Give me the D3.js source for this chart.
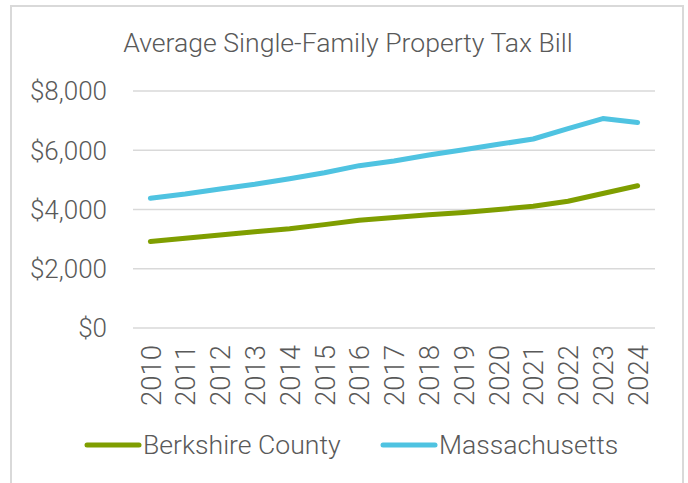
<!DOCTYPE html>
<html>
<head>
<meta charset="utf-8">
<script src="https://cdn.jsdelivr.net/npm/d3@7"></script>
<style>
  html, body { margin: 0; padding: 0; background: #fff; }
  svg { display: block; }
  text { font-family: Roboto, "Noto Sans", sans-serif; font-weight: 300; fill: #595959; }
</style>
</head>
<body>
<script>
const years = ["2010","2011","2012","2013","2014","2015","2016","2017","2018","2019","2020","2021","2022","2023","2024"];
const berkshire = [2920, 3030, 3140, 3250, 3350, 3490, 3640, 3730, 3820, 3900, 4000, 4110, 4280, 4540, 4800];
const massachusetts = [4380, 4520, 4690, 4850, 5040, 5240, 5480, 5640, 5840, 6020, 6200, 6380, 6730, 7070, 6940];
const yTicks = [0, 2000, 4000, 6000, 8000];
const seriesNames = ["Berkshire County", "Massachusetts"];
const seriesColors = ["#7f9e00", "#4fc3e1"];
const title = "Average Single-Family Property Tax Bill";

const W = 688, H = 483;
const svg = d3.select("body").append("svg").attr("width", W).attr("height", H);

// outer border
svg.append("rect").attr("x", 11).attr("y", 6).attr("width", 672).attr("height", 490)
  .attr("fill", "none").attr("stroke", "#d9d9d9").attr("stroke-width", 2);

const x = d3.scalePoint().domain(years).range([133, 655]).padding(0.5);
const y = d3.scaleLinear().domain([0, 8000]).range([328, 91]);

// title
svg.append("text").attr("x", 348).attr("y", 52).attr("text-anchor", "middle")
  .style("font-size", "26.6px").text(title);

// gridlines
svg.append("g").selectAll("line").data(yTicks).join("line")
  .attr("x1", 133).attr("x2", 655)
  .attr("y1", d => y(d)).attr("y2", d => y(d))
  .attr("stroke", "#d9d9d9").attr("stroke-width", 1.5);

// y axis labels
const fmt = d => "$" + d3.format(",")(d);
const yAxis = svg.append("g").attr("transform", "translate(118,0)")
  .call(d3.axisLeft(y).tickValues(yTicks).tickFormat(fmt).tickSize(0).tickPadding(0));
yAxis.select(".domain").remove();
yAxis.selectAll("text").style("font-size", "26px").attr("x", -11).attr("dy", "0.34em")
  .style("font-family", "Roboto").style("fill", "#595959");

// x axis labels
const xAxis = svg.append("g").attr("transform", "translate(0,328)")
  .call(d3.axisBottom(x).tickSize(0).tickPadding(0));
xAxis.select(".domain").remove();
xAxis.selectAll("text")
  .style("font-size", "27.5px").style("font-family", "Roboto").style("fill", "#595959")
  .attr("text-anchor", "end")
  .attr("transform", "rotate(-90)")
  .attr("x", -17).attr("y", 0).attr("dy", "0.35em");

// lines
const line = d3.line().x((d, i) => x(years[i])).y(d => y(d));
[berkshire, massachusetts].forEach((s, k) => {
  svg.append("path").datum(s).attr("d", line)
    .attr("fill", "none").attr("stroke", seriesColors[k])
    .attr("stroke-width", 5).attr("stroke-linecap", "round").attr("stroke-linejoin", "round");
});

// legend
const legendX = [85, 381];
seriesNames.forEach((n, k) => {
  const g = svg.append("g").attr("transform", `translate(${legendX[k]},445)`);
  g.append("line").attr("x1", 2).attr("x2", 54).attr("y1", 0).attr("y2", 0)
    .attr("stroke", seriesColors[k]).attr("stroke-width", 5).attr("stroke-linecap", "round");
  g.append("text").attr("x", 58).attr("y", 0).attr("dy", "0.35em")
    .style("font-size", "26.6px").text(n);
});
</script>
</body>
</html>
